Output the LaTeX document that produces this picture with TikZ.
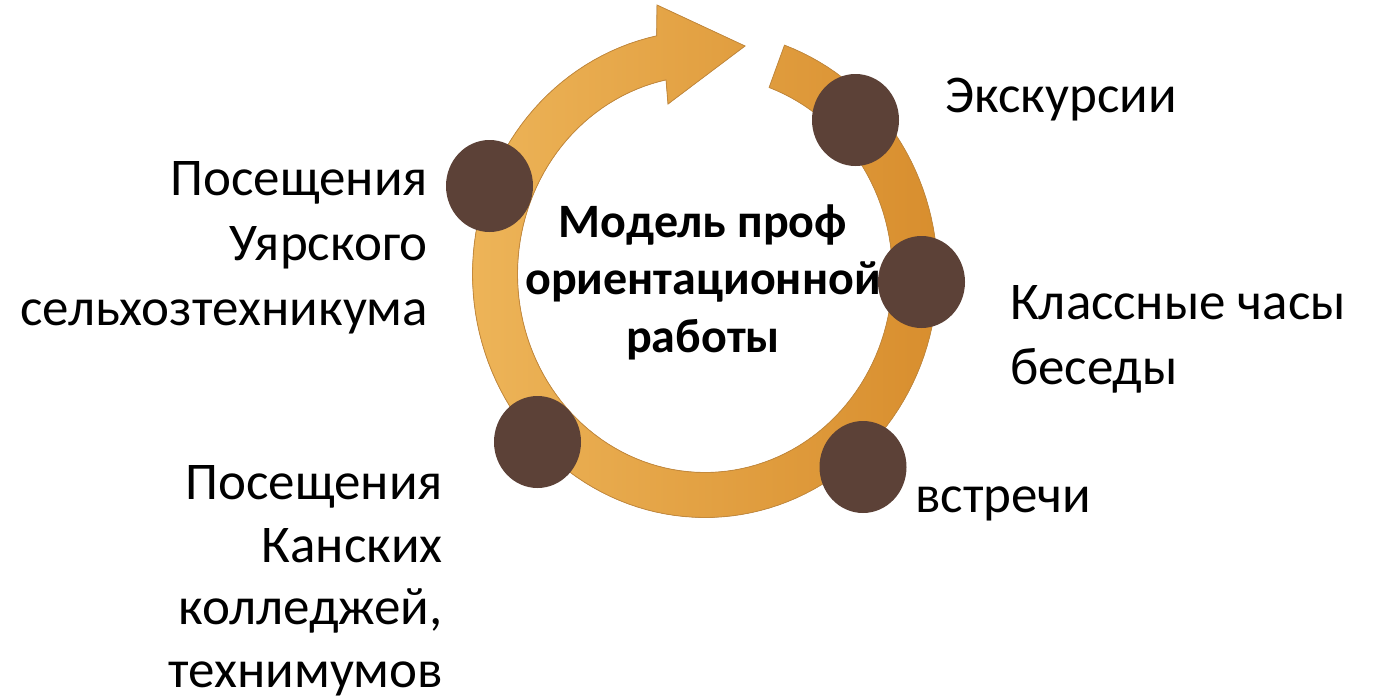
\documentclass[tikz,border=0pt]{standalone}
\usepackage{fontspec}
\setmainfont{Carlito}
\usetikzlibrary{shapes.geometric}
\definecolor{ringL}{HTML}{EDB458}
\definecolor{ringR}{HTML}{D88E2E}
\definecolor{ringE}{HTML}{C58A3C}
\definecolor{dotc}{HTML}{5C4137}
\begin{document}
\begin{tikzpicture}[x=1pt,y=-1pt,
  dotnode/.style={ellipse,fill=dotc,minimum width=87pt,minimum height=92pt,inner sep=0pt},
  lbl/.style={font=\fontsize{53}{65}\selectfont,inner sep=0pt},
  ctr/.style={font=\fontsize{48}{57.5}\selectfont\bfseries,inner sep=0pt,align=center}]
\useasboundingbox (0,0) rectangle (1373,699);
% ring arrow
\fill[left color=ringL,right color=ringR,draw=ringE,line width=0.8pt]
  plot[domain=-70:258,samples=140] ({705+232.5*cos(\x)},{274+243.5*sin(\x)})
  -- (657,5) -- (745,46) -- (668,104)
  -- plot[domain=-70:258,samples=140] ({705+187.5*cos(188-\x)},{274+198.5*sin(188-\x)})
  -- cycle;
% dots
\node[dotnode] (c1) at (489.5,186) {};
\node[dotnode] (c2) at (855.5,120) {};
\node[dotnode] (c3) at (921.5,282) {};
\node[dotnode] (c4) at (537.5,442) {};
\node[dotnode] (c5) at (863,467) {};
% center text
\node[ctr,anchor=base] (t0) at (703,352) {Модель проф\\ориентационной\\работы};
% labels
\node[lbl,anchor=base west] (t2) at (945,112) {Экскурсии};
\node[lbl,anchor=base east,align=right] (t1) at (428,325) {Посещения\\Уярского\\сельхозтехникума};
\node[lbl,anchor=base west,align=left] (t3) at (1010,384) {Классные часы\\беседы};
\node[lbl,anchor=base west] (t5) at (915,512) {встречи};
\node[lbl,anchor=base east,align=right,font=\fontsize{53}{62.5}\selectfont] (t4) at (443,687) {Посещения\\Канских\\колледжей,\\технимумов};
\end{tikzpicture}
\end{document}
